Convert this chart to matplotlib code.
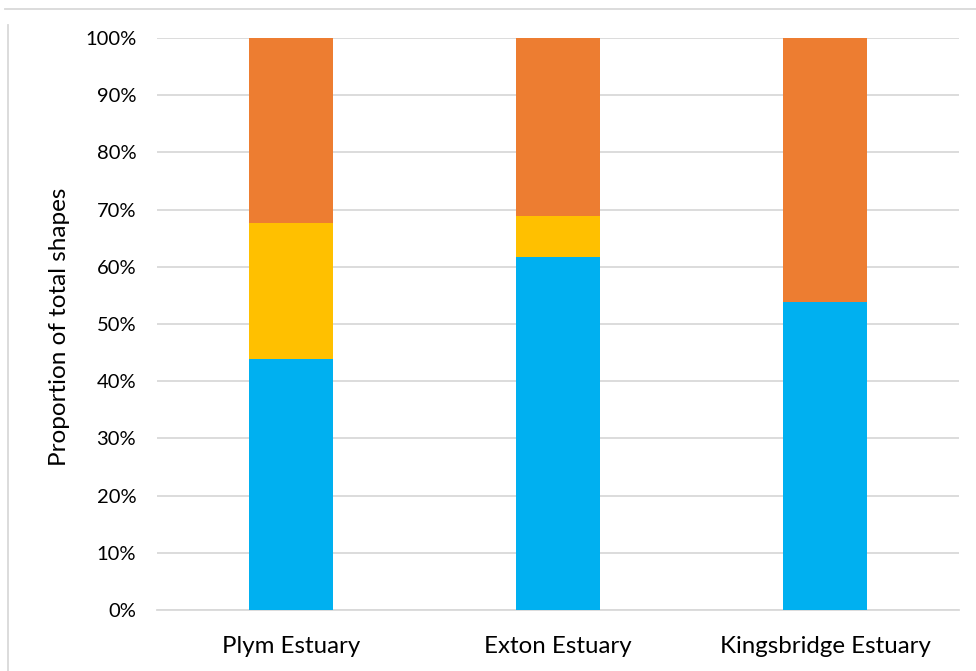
import matplotlib.pyplot as plt
import numpy as np
from matplotlib.lines import Line2D

# estuary shape proportions (%)
sites = ['Plym Estuary', 'Exton Estuary', 'Kingsbridge Estuary']
blue_vals = [43.9, 61.7, 53.9]
yellow_vals = [23.8, 7.2, 0.0]
orange_vals = [32.3, 31.1, 46.1]

plt.rcParams['font.family'] = ['Lato', 'DejaVu Sans']

fig = plt.figure(figsize=(9.76, 6.71), dpi=100)
ax = fig.add_axes([157 / 976, 61 / 671, 802 / 976, 572 / 671])

x = np.arange(len(sites))
w = 0.314
blue = np.array(blue_vals)
yellow = np.array(yellow_vals)
orange = np.array(orange_vals)

ax.bar(x, blue, w, color='#00B0F0', zorder=3)
ax.bar(x, yellow, w, bottom=blue, color='#FFC000', zorder=3)
ax.bar(x, orange, w, bottom=blue + yellow, color='#ED7D31', zorder=3)

ax.set_xlim(-0.5, 2.5)
ax.set_ylim(0, 100)
ax.set_yticks(np.arange(0, 101, 10))
ax.set_yticklabels([f'{v}%' for v in range(0, 101, 10)], fontsize=14.5)
ax.set_xticks(x)
ax.set_xticklabels(sites, fontsize=17.3)
ax.tick_params(axis='both', length=0, colors='#000000')
ax.tick_params(axis='y', pad=15)
ax.tick_params(axis='x', pad=19)

ax.grid(axis='y', color='#D9D9D9', linewidth=1.3, zorder=0)
for side in ['top', 'right', 'left']:
    ax.spines[side].set_visible(False)
ax.spines['bottom'].set_color('#D9D9D9')
ax.spines['bottom'].set_linewidth(1.3)

ax.set_ylabel('Proportion of total shapes', fontsize=17.5, va='center')
ax.yaxis.set_label_coords(-0.121, 0.495)

# outer chart frame edges
fig.add_artist(Line2D([5 / 976, 1], [1 - 9 / 671, 1 - 9 / 671], color='#D9D9D9', lw=1.3))
fig.add_artist(Line2D([8 / 976, 8 / 976], [0, 1 - 25 / 671], color='#D9D9D9', lw=1.3))

fig.savefig('out.png', dpi=100)
